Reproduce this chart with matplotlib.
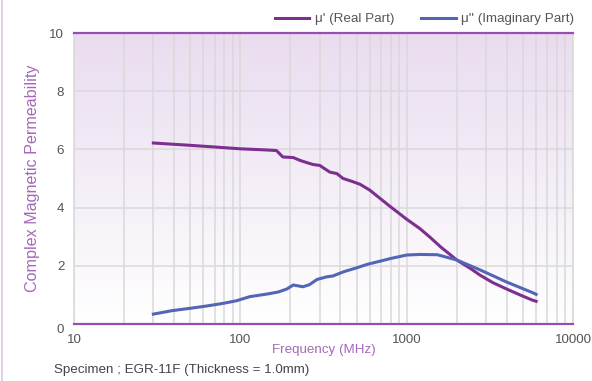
import numpy as np
import matplotlib
matplotlib.use("Agg")
import matplotlib.pyplot as plt
from matplotlib.lines import Line2D
from matplotlib.colors import LinearSegmentedColormap

# data
real_freq = [30, 50, 80, 100, 145, 165, 180, 208, 229, 250, 274, 300, 345, 380, 415,
             470, 525, 600, 670, 795, 1000, 1200, 1370, 1600, 2000, 2400, 2760, 3300,
             4000, 4800, 5700, 6000]
real_vals = [6.22, 6.14, 6.06, 6.02, 5.98, 5.96, 5.74, 5.72, 5.62, 5.55, 5.48, 5.45,
             5.22, 5.17, 5.0, 4.9, 4.8, 4.6, 4.38, 4.04, 3.6, 3.28, 3.0, 2.65, 2.2,
             1.92, 1.68, 1.42, 1.2, 1.0, 0.82, 0.78]

imag_freq = [30, 39, 50, 63, 79, 95, 114, 145, 169, 190, 208, 238, 260, 289, 330, 360,
             420, 500, 580, 660, 800, 1000, 1200, 1530, 2000, 2760, 4000, 5700, 6000]
imag_vals = [0.34, 0.46, 0.54, 0.62, 0.71, 0.8, 0.94, 1.03, 1.1, 1.2, 1.34, 1.28, 1.35,
             1.53, 1.62, 1.65, 1.8, 1.93, 2.05, 2.13, 2.25, 2.37, 2.39, 2.38, 2.2, 1.86,
             1.44, 1.08, 1.02]

x_ticks = [10, 100, 1000, 10000]
x_ticklabels = ["10", "100", "1000", "10000"]
y_ticks = [0, 2, 4, 6, 8, 10]

real_color = "#7d2f8f"
imag_color = "#5366b6"
spine_color = "#9a4db0"
label_color = "#a468b8"
grid_color = "#d9d9d9"

plt.rcParams['font.family'] = ['Liberation Sans', 'DejaVu Sans']
plt.rcParams['font.size'] = 9.6

fig = plt.figure(figsize=(5.92, 3.81), dpi=100)
ax = fig.add_axes([74 / 592, 1 - 324 / 381, 499 / 592, 291 / 381])

# background gradient: light purple at top fading to white
grad = np.linspace(1, 0, 256).reshape(-1, 1)
cmap = LinearSegmentedColormap.from_list("bg", ["#ffffff", "#e9dcef"])
ax.imshow(grad, extent=[0, 1, 0, 1], transform=ax.transAxes, aspect="auto",
          cmap=cmap, zorder=0)

ax.set_xscale("log")
ax.set_xlim(10, 10000)
ax.set_ylim(0, 10)

ax.grid(True, which="both", axis="x", color=grid_color, lw=1.1, zorder=1)
ax.grid(True, which="major", axis="y", color=grid_color, lw=1.1, zorder=1)
ax.set_axisbelow(True)

ax.plot(real_freq, real_vals, color=real_color, lw=2.2, zorder=3,
        solid_joinstyle="round")
ax.plot(imag_freq, imag_vals, color=imag_color, lw=2.2, zorder=3,
        solid_joinstyle="round")

ax.set_xticks(x_ticks)
ax.set_xticklabels(x_ticklabels)
ax.set_yticks(y_ticks)
ax.tick_params(which="both", length=0, colors="#555555")
ax.tick_params(axis="x", pad=7)
ax.tick_params(axis="y", pad=7)
ax.get_yticklabels()[0].set_va("top")

for side in ["left", "right"]:
    ax.spines[side].set_color(grid_color)
    ax.spines[side].set_linewidth(1.1)
for side in ["top", "bottom"]:
    ax.spines[side].set_color(spine_color)
    ax.spines[side].set_linewidth(1.6)
    ax.spines[side].set_zorder(4)

ax.set_xlabel("Frequency (MHz)", color=label_color, va="center")
ax.xaxis.set_label_coords(0.5, -0.089)
ax.set_ylabel("Complex Magnetic Permeability", color=label_color, va="center",
              fontsize=11.6)
ax.yaxis.set_label_coords(-0.084, 0.5)

handles = [Line2D([], [], color=real_color, lw=2.2),
           Line2D([], [], color=imag_color, lw=2.2)]
fig.legend(handles, ["μ' (Real Part)", "μ'' (Imaginary Part)"], ncol=2,
           loc="center right", bbox_to_anchor=(574 / 592, 1 - 19 / 381),
           frameon=False, handlelength=2.6, handletextpad=0.4, columnspacing=2.0,
           labelcolor="#555555", borderaxespad=0, borderpad=0)

fig.text(54 / 592, 1 - 370 / 381, "Specimen ; EGR-11F (Thickness = 1.0mm)",
         ha="left", va="center", color="#444444")

# thin purple border at the left edge of the figure
fig.add_artist(Line2D([1.5 / 592, 1.5 / 592], [0, 1], transform=fig.transFigure,
                      color="#dcc6e6", lw=1.2))

fig.savefig("out.png", dpi=100)
